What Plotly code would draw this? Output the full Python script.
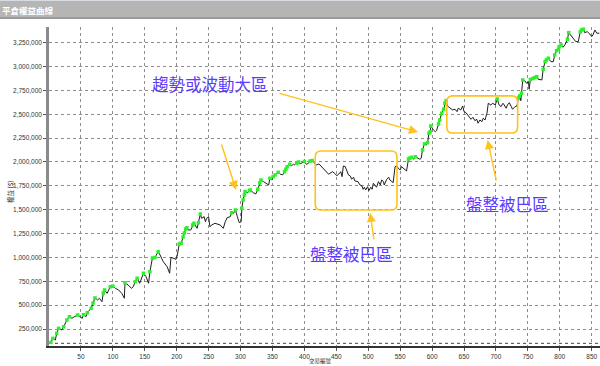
import plotly.graph_objects as go

# ---- data ----
trade_no = [3, 6, 10, 12, 15, 20, 23, 28, 32, 36, 39, 45, 52, 54, 58, 60, 66, 69, 72, 76,
            79, 83, 85, 87, 91, 96, 100, 104, 109, 114, 118, 119, 124, 129, 132, 135, 138, 142, 148, 152,
            156, 158, 162, 166, 171, 174, 179, 185, 189, 191, 195, 199, 201, 204, 207, 210, 212, 214, 216, 218,
            222, 225, 227, 232, 234, 237, 239, 243, 245, 247, 250, 252, 255, 260, 268, 273, 276, 279, 284, 286,
            289, 292, 295, 298, 301, 302, 304, 306, 307, 311, 314, 315, 320, 324, 327, 330, 332, 336, 340, 344,
            346, 349, 351, 354, 359, 362, 366, 369, 371, 373, 377, 379, 383, 385, 388, 391, 393, 397, 400, 403,
            405, 409, 412, 415, 419, 423, 426, 429, 431, 434, 438, 440, 444, 447, 451, 454, 457, 459, 461, 464,
            466, 469, 472, 474, 477, 479, 484, 487, 490, 492, 494, 496, 499, 501, 504, 506, 508, 511, 513, 516,
            519, 521, 524, 525, 529, 532, 534, 537, 539, 542, 545, 547, 550, 552, 555, 558, 560, 563, 565, 568,
            571, 574, 578, 581, 583, 585, 588, 591, 593, 595, 597, 598, 602, 605, 607, 610, 612, 615, 618, 620,
            622, 624, 628, 632, 636, 639, 641, 645, 648, 650, 653, 657, 661, 664, 667, 670, 672, 675, 678, 680,
            683, 684, 686, 688, 692, 695, 699, 702, 705, 708, 711, 713, 716, 718, 721, 724, 726, 730, 733, 735,
            737, 739, 740, 742, 745, 748, 751, 752, 754, 758, 761, 764, 766, 772, 774, 777, 779, 782, 786, 790,
            792, 795, 798, 799, 802, 805, 808, 812, 814, 817, 820, 822, 825, 829, 832, 834, 837, 839, 843, 847,
            850, 852, 855, 858, 862]

equity = [110000, 152000, 135000, 205000, 257000, 240000, 274000, 344000, 379000, 362000,
          376000, 397000, 362000, 400000, 379000, 421000, 467000, 522000, 575000, 554000,
          572000, 536000, 627000, 659000, 624000, 693000, 700000, 676000, 659000, 624000,
          572000, 735000, 711000, 676000, 693000, 746000, 781000, 729000, 834000, 798000,
          729000, 850000, 994000, 999000, 1060000, 1025000, 955000, 903000, 834000, 1001000,
          991000, 980000, 1025000, 1141000, 1148000, 1214000, 1256000, 1298000, 1311000, 1287000,
          1287000, 1340000, 1358000, 1305000, 1364000, 1455000, 1410000, 1427000, 1374000, 1410000,
          1427000, 1322000, 1340000, 1358000, 1340000, 1305000, 1374000, 1416000, 1427000, 1469000,
          1462000, 1497000, 1427000, 1364000, 1374000, 1515000, 1602000, 1654000, 1689000, 1678000,
          1699000, 1707000, 1678000, 1665000, 1714000, 1780000, 1811000, 1794000, 1777000, 1759000,
          1829000, 1811000, 1846000, 1864000, 1892000, 1874000, 1864000, 1898000, 1924000, 1951000,
          1976000, 1958000, 1976000, 1969000, 1986000, 2000000, 1979000, 1993000, 2005000, 1976000,
          1979000, 2010000, 2015000, 1993000, 1969000, 1979000, 1958000, 1934000, 1916000, 1898000,
          1871000, 1882000, 1898000, 1882000, 1856000, 1874000, 1898000, 1846000, 1958000, 1951000,
          1916000, 1864000, 1853000, 1819000, 1840000, 1801000, 1794000, 1759000, 1749000, 1714000,
          1735000, 1707000, 1741000, 1699000, 1735000, 1714000, 1777000, 1749000, 1735000, 1794000,
          1759000, 1811000, 1794000, 1759000, 1819000, 1840000, 1811000, 1794000, 1783000, 1951000,
          1958000, 1934000, 1916000, 1951000, 1934000, 1916000, 1906000, 2030000, 2040000, 2049000,
          2028000, 2055000, 2039000, 2028000, 2039000, 2126000, 2189000, 2178000, 2202000, 2301000,
          2318000, 2377000, 2335000, 2318000, 2328000, 2398000, 2440000, 2510000, 2552000, 2615000,
          2642000, 2587000, 2563000, 2545000, 2552000, 2527000, 2563000, 2545000, 2587000, 2527000,
          2517000, 2475000, 2447000, 2468000, 2433000, 2447000, 2406000, 2440000, 2422000, 2458000,
          2440000, 2468000, 2510000, 2615000, 2597000, 2615000, 2597000, 2660000, 2597000, 2580000,
          2615000, 2597000, 2563000, 2597000, 2621000, 2580000, 2552000, 2580000, 2587000, 2668000,
          2692000, 2642000, 2720000, 2859000, 2852000, 2825000, 2842000, 2762000, 2865000, 2875000,
          2885000, 2894000, 2867000, 2859000, 2971000, 3051000, 3069000, 3087000, 3051000, 3051000,
          3121000, 3166000, 3181000, 3208000, 3226000, 3202000, 3226000, 3286000, 3355000, 3331000,
          3313000, 3296000, 3261000, 3261000, 3362000, 3383000, 3391000, 3355000, 3365000, 3341000,
          3313000, 3331000, 3383000, 3349000, 3349000]

x_ticks = [50, 100, 150, 200, 250, 300, 350, 400, 450, 500, 550, 600, 650, 700, 750, 800, 850]
y_ticks = [250000, 500000, 750000, 1000000, 1250000, 1500000, 1750000, 2000000, 2250000,
           2500000, 2750000, 3000000, 3250000]
y_tick_labels = ["250,000", "500,000", "750,000", "1,000,000", "1,250,000", "1,500,000",
                 "1,750,000", "2,000,000", "2,250,000", "2,500,000", "2,750,000", "3,000,000",
                 "3,250,000"]
start_equity = 100000

title_text = "平倉權益曲線"
y_title = "權益 ($)"
x_title = "交易編號"
label_trend = "趨勢或波動大區"
label_range = "盤整被巴區"

# new equity highs -> green markers
hx, hy = [], []
best = float("-inf")
for t, v in zip(trade_no, equity):
    if v > best:
        hx.append(t)
        hy.append(v)
        best = v

fig = go.Figure()
fig.add_trace(go.Scatter(x=trade_no, y=equity, mode="lines",
                         line=dict(color="#1e1e1e", width=1), hoverinfo="skip"))
fig.add_trace(go.Scatter(x=hx, y=hy, mode="markers",
                         marker=dict(symbol="square", size=3.5, color="#2bf02b",
                                     line=dict(width=0)), hoverinfo="skip"))

X_RANGE = [0, 863]
Y_RANGE = [72000, 3414000]

tickfont = dict(family="Liberation Sans, Arial", size=6.5, color="#333333")
fig.update_layout(
    width=600, height=366,
    margin=dict(l=49, r=0, t=27, b=20),
    paper_bgcolor="white", plot_bgcolor="white",
    showlegend=False,
    xaxis=dict(range=X_RANGE, tickvals=x_ticks, showgrid=True, gridcolor="#8c8c8c",
               griddash="dot", gridwidth=1, zeroline=False, showline=True,
               linecolor="#333333", linewidth=1.5, ticks="outside", ticklen=3,
               tickcolor="#555555", tickfont=tickfont),
    yaxis=dict(range=Y_RANGE, tickvals=y_ticks, ticktext=y_tick_labels, showgrid=True,
               gridcolor="#8c8c8c", griddash="dot", gridwidth=1, zeroline=False,
               showline=True, linecolor="#8a8a8a", linewidth=2.5, ticks="outside",
               ticklen=3, tickcolor="#555555", tickfont=tickfont),
)


def rounded_rect(x0, x1, y0, y1, rx, ry):
    return (f"M {x0 + rx},{y1} L {x1 - rx},{y1} Q {x1},{y1} {x1},{y1 - ry} "
            f"L {x1},{y0 + ry} Q {x1},{y0} {x1 - rx},{y0} L {x0 + rx},{y0} "
            f"Q {x0},{y0} {x0},{y0 + ry} L {x0},{y1 - ry} Q {x0},{y1} {x0 + rx},{y1} Z")


orange = "#ffc21a"
shapes = [
    # header bar
    dict(type="rect", xref="paper", yref="paper", x0=-0.0889, x1=1.0, y0=1.0313, y1=1.0815,
         fillcolor="#b5b5b5", line=dict(width=0), layer="above"),
    dict(type="rect", xref="paper", yref="paper", x0=-0.0889, x1=1.0, y0=1.0251, y1=1.0313,
         fillcolor="#9a9a9a", line=dict(width=0), layer="above"),
    dict(type="rect", xref="paper", yref="paper", x0=-0.0889, x1=1.0, y0=1.0815, y1=1.0846,
         fillcolor="#d8dde3", line=dict(width=0), layer="above"),
    # start-equity line
    dict(type="line", xref="x", yref="y", x0=X_RANGE[0], x1=X_RANGE[1], y0=start_equity,
         y1=start_equity, line=dict(color="#444444", width=1, dash="dot"), layer="below"),
    # highlight boxes
    dict(type="path", xref="x", yref="y", path=rounded_rect(417, 545, 1497000, 2115000, 9, 63000),
         line=dict(color=orange, width=1.6)),
    dict(type="path", xref="x", yref="y", path=rounded_rect(623, 734, 2304000, 2692000, 9, 63000),
         line=dict(color=orange, width=1.6)),
]
fig.update_layout(shapes=shapes)

annos = []
# arrows
for (x, y, ax, ay) in [(578, 2314000, -140, -39), (293, 1707000, -15, -47),
                       (503, 1466000, 4, 28), (687, 2230000, 9, 42)]:
    annos.append(dict(x=x, y=y, xref="x", yref="y", ax=ax, ay=ay, text="", showarrow=True,
                      arrowhead=2, arrowsize=1.3, arrowwidth=1.4, arrowcolor=orange, standoff=0))
labfont = dict(family="Noto Sans CJK TC", size=16.5, color="#5a3cff")
annos += [
    dict(x=252, y=2822000, xref="x", yref="y", text=label_trend, showarrow=False, font=labfont),
    dict(x=474, y=1031000, xref="x", yref="y", text=label_range, showarrow=False, font=labfont),
    dict(x=718, y=1560000, xref="x", yref="y", text=label_range, showarrow=False, font=labfont),
    dict(x=-0.0889, y=1.0533, xref="paper", yref="paper", xanchor="left", yanchor="middle",
         text="<b>" + title_text + "</b>", showarrow=False,
         font=dict(family="Noto Sans CJK TC", size=8.5, color="white")),
    dict(x=-0.0835, y=0.4828, xref="paper", yref="paper", text=y_title, textangle=-90,
         showarrow=False, font=dict(family="Noto Sans CJK TC", size=6.5, color="#333333")),
    dict(x=0.4927, y=-0.0627, xref="paper", yref="paper", yanchor="bottom", text=x_title,
         showarrow=False, borderpad=0,
         font=dict(family="Noto Sans CJK TC", size=5.5, color="#333333")),
]
fig.update_layout(annotations=annos)

fig.write_html("out.html")
